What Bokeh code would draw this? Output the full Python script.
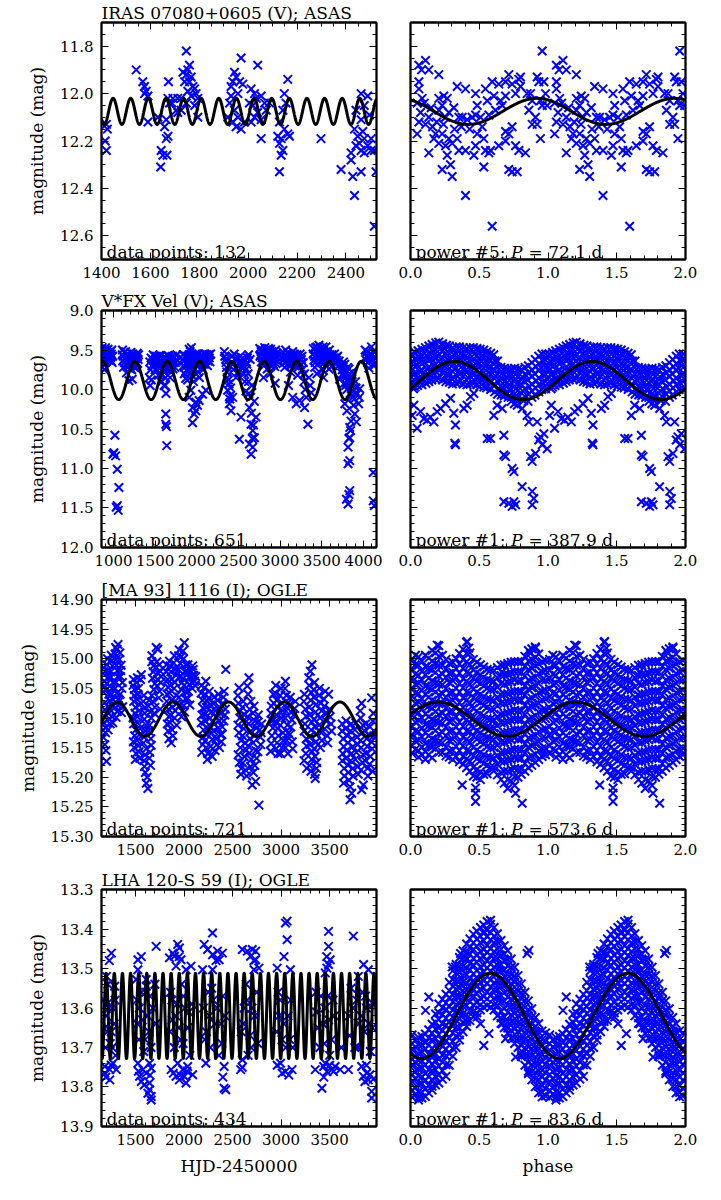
import numpy as np
from bokeh.plotting import figure
from bokeh.models import (Range1d, LinearAxis, SingleIntervalTicker, Title,
                          PrintfTickFormatter, CustomJSTickFormatter, Label)
from bokeh.layouts import column, row
from bokeh.embed import file_html
from bokeh.resources import INLINE

# ------------------------------------------------------------------ data
titles = ["IRAS 07080+0605 (V); ASAS", "V*FX Vel (V); ASAS",
          "[MA 93] 1116 (I); OGLE", "LHA 120-S 59 (I); OGLE"]
n_points = [132, 651, 721, 434]
power_rank = [5, 1, 1, 1]
periods = [72.1, 387.9, 573.6, 83.6]
fit_mean = [12.075, 9.886, 15.102, 13.62]
fit_amp = [0.055, 0.242, 0.029, 0.108]
fit_phase_max = [0.92, 0.32, 0.20, 0.58]
fit_t0 = [1381.0, 1133.0, 1197.0, 1150.0]

time_ranges = [(1400, 2525), (856, 4156), (1150, 3983), (1150, 3983)]
mag_ranges = [(11.7, 12.7), (9.0, 12.0), (14.90, 15.30), (13.3, 13.9)]
x_tick_step = [200, 500, 500, 500]
x_minor = [4, 5, 5, 5]
y_tick_step = [0.2, 0.5, 0.05, 0.1]
y_minor = [4, 5, 5, 5]
y_fmt = ["%.1f", "%.1f", "%.2f", "%.1f"]

# ---- star 1: time series (HJD-2450000, mag)
lc1 = [(1420,12.13),(1424,12.15),(1415,12.20),(1420,12.24),
 (1542,11.90),(1569,11.95),(1576,11.97),(1583,11.99),(1576,12.00),(1590,12.01),
 (1590,12.12),(1631,12.10),
 (1644,12.24),(1651,12.26),(1668,12.26),(1642,12.31),(1672,12.18),(1665,12.19),(1658,12.14),(1665,12.11),
 (1674,11.95),(1672,12.02),(1678,12.04),(1688,12.04),(1692,12.02),(1712,12.02),(1706,12.07),(1712,12.08),
 (1747,11.82),(1760,11.88),(1753,11.90),(1733,11.91),(1747,11.92),(1767,11.93),(1740,11.95),(1760,11.95),
 (1774,11.97),(1781,11.98),(1753,11.99),(1767,12.01),(1787,12.00),(1726,12.02),(1747,12.04),(1781,12.05),
 (1794,12.02),(1726,12.07),(1794,12.10),
 (1944,11.91),(1930,11.97),(1937,11.95),(1951,11.93),(1965,11.95),(1978,11.96),(1971,11.85),(1958,12.00),
 (1930,12.01),(1924,12.04),(1944,12.07),(1917,12.10),(1937,12.12),(1958,12.10),(1971,12.15),(1951,12.14),(1985,12.12),
 (2039,11.88),(2012,11.98),(2026,12.00),(2033,12.02),(2053,12.01),(2067,12.04),(2005,12.04),(2019,12.05),
 (2039,12.08),(2053,12.11),(2026,12.10),(2012,12.12),(2053,12.19),(2074,12.07),(2087,12.04),
 (2162,11.94),(2148,12.00),(2155,12.04),(2142,12.07),(2128,12.12),(2148,12.15),(2162,12.17),(2169,12.18),
 (2135,12.19),(2128,12.21),(2142,12.24),(2135,12.26),(2128,12.33),(2121,12.18),
 (2298,12.19),
 (2380,12.32),(2421,12.28),(2428,12.35),(2435,12.43),(2462,12.33),(2421,12.25),(2441,12.22),(2455,12.21),
 (2448,12.18),(2469,12.16),(2462,12.11),(2475,12.05),(2462,12.00),(2489,12.01),(2496,12.09),(2475,12.19),
 (2489,12.22),(2503,12.19),(2516,12.24),(2475,12.25),(2503,12.24),(2523,12.33),(2516,12.56),(2441,12.07),
 (2435,12.15),(2462,12.24)]

# ---- star 1: phased (phase in [0,1), mag)
ph1 = [(0.061,11.88),(0.109,11.86),(0.080,11.90),(0.133,11.90),(0.206,11.92),
 (0.061,11.95),(0.061,11.98),(0.085,12.02),(0.048,12.04),(0.073,12.08),(0.061,12.12),(0.048,12.17),
 (0.109,12.13),(0.133,12.10),(0.206,12.02),(0.242,12.01),(0.267,12.02),(0.230,12.05),(0.206,12.07),
 (0.279,12.08),(0.255,12.10),(0.315,12.06),(0.339,11.97),(0.400,11.98),(0.352,12.10),(0.376,12.10),
 (0.412,12.11),(0.448,12.10),(0.182,12.17),(0.170,12.19),(0.230,12.17),(0.279,12.19),(0.206,12.21),
 (0.255,12.22),(0.303,12.21),(0.339,12.19),(0.352,12.24),(0.400,12.24),(0.267,12.26),(0.291,12.30),
 (0.230,12.32),(0.303,12.35),(0.133,12.25),(0.400,12.43),
 (0.473,12.00),(0.485,12.05),(0.473,12.09),(0.509,12.10),(0.545,11.98),(0.558,12.03),(0.594,11.95),
 (0.606,12.01),(0.570,12.09),(0.618,12.07),(0.655,12.03),(0.667,12.05),(0.691,12.01),(0.642,11.96),
 (0.715,11.92),(0.691,11.95),(0.739,11.96),(0.764,12.00),(0.788,11.94),(0.800,11.97),(0.800,11.93),
 (0.485,12.17),(0.521,12.14),(0.533,12.19),(0.473,12.22),(0.545,12.24),(0.582,12.24),(0.533,12.31),
 (0.570,12.25),(0.461,12.26),(0.642,12.22),(0.691,12.20),(0.715,12.17),(0.739,12.14),(0.764,12.22),
 (0.788,12.24),(0.836,12.25),(0.715,12.32),(0.739,12.33),(0.776,12.33),(0.691,12.16),(0.594,12.56),
 (0.848,12.00),(0.873,12.00),(0.885,12.03),(0.921,11.93),(0.933,11.95),(0.945,12.03),(0.958,12.05),
 (0.909,12.10),(0.921,12.13),(0.945,12.19),(0.885,12.13),(0.861,12.07),(0.958,11.82),(0.970,11.95),
 (0.982,12.00),(0.994,12.05),(0.150,12.06),(0.190,12.12),(0.240,12.13),(0.320,12.15),(0.370,12.14),
 (0.430,12.15),(0.100,12.04),(0.160,12.14)]

# ---- star 2: time series
lc2 = [(864,9.47),(870,9.55),(880,9.62),(884,9.50),(895,9.58),(904,9.47),(910,9.65),(920,9.53),(924,9.60),
 (935,9.49),(944,9.57),(950,9.63),(960,9.52),(964,9.60),(975,9.55),(984,9.66),(870,9.72),(890,9.75),
 (1017,10.58),(993,10.82),(1025,10.84),(1045,11.01),(1065,11.24),(1033,11.49),(1057,11.53),(1045,11.47),(1005,10.80),
 (1105,9.56),(1110,9.64),(1120,9.72),(1128,9.53),(1140,9.60),(1150,9.68),(1155,9.79),(1165,9.55),(1175,9.62),
 (1185,9.71),(1190,9.58),(1200,9.66),(1210,9.53),(1218,9.75),(1225,9.61),(1235,9.69),(1245,9.57),(1255,9.64),
 (1265,9.73),(1280,9.60),(1290,9.67),(1300,9.56),(1185,9.89),(1225,9.87),
 (1430,9.85),(1440,9.95),(1450,9.60),(1460,9.70),(1475,9.56),(1490,9.64),(1500,9.75),(1515,9.58),(1525,9.67),
 (1540,9.82),(1550,9.57),(1560,9.63),(1570,9.72),(1580,9.90),(1590,9.60),(1600,9.68),(1610,9.78),(1620,9.95),
 (1630,10.05),(1640,9.62),(1650,9.57),(1660,9.70),(1670,9.66),(1680,9.85),(1690,9.59),(1700,9.63),(1715,9.74),
 (1730,9.60),(1745,9.66),(1760,9.56),(1627,10.31),(1627,10.44),(1635,10.47),(1639,10.71),(1607,9.95),
 (1830,9.62),(1840,9.70),(1850,9.80),(1860,9.58),(1870,9.66),(1880,9.75),(1890,9.88),(1900,9.60),(1910,9.69),
 (1920,9.52),(1930,9.78),(1940,9.63),(1950,9.71),(1960,9.90),(1970,9.58),(1980,9.66),(1990,9.80),(2000,9.55),
 (2010,9.70),(2020,9.62),(2030,9.85),(2045,9.57),(2060,9.66),(2075,9.75),(2090,9.60),(2105,9.68),(2120,9.56),
 (2135,9.64),(2150,9.60),(2165,9.55),(1908,9.49),(1935,9.47),(1948,10.23),(1968,10.31),(1948,10.42),
 (1988,10.27),(2028,10.14),(2069,10.06),(2109,10.01),(1908,10.10),(1988,10.16),(1928,10.01),(2008,10.20),
 (2330,9.52),(2345,9.62),(2355,9.72),(2365,9.85),(2370,10.01),(2385,9.93),(2390,10.18),(2400,10.08),
 (2410,10.27),(2430,10.10),(2420,9.66),(2440,9.75),(2455,9.62),(2470,9.85),(2485,9.70),(2500,9.60),
 (2510,9.78),(2530,10.35),(2510,10.63),(2545,9.66),(2560,9.72),(2575,9.90),(2590,10.02),(2600,9.68),
 (2615,9.80),(2625,10.05),(2631,10.23),(2651,10.44),(2671,10.52),(2631,10.69),(2651,10.82),(2691,10.61),
 (2711,10.35),(2671,10.73),(2690,10.15),(2660,9.95),(2640,9.62),(2620,9.56),
 (2755,9.48),(2765,9.56),(2775,9.65),(2785,9.50),(2795,9.60),(2805,9.70),(2815,9.47),(2825,9.55),(2835,9.63),
 (2845,9.74),(2855,9.52),(2865,9.59),(2875,9.68),(2885,9.49),(2895,9.57),(2905,9.66),(2915,9.53),(2925,9.62),
 (2935,9.71),(2945,9.50),(2955,9.58),(2965,9.64),(2800,9.85),(2880,9.80),(2940,9.92),
 (3035,9.53),(3045,9.62),(3055,9.72),(3065,9.50),(3080,9.60),(3095,9.68),(3110,9.55),(3125,9.78),(3140,9.63),
 (3150,9.52),(3165,9.58),(3180,9.70),(3195,9.60),(3210,9.82),(3225,9.66),(3240,9.55),(3255,9.62),(3270,9.74),
 (3285,9.90),(3300,10.00),(3193,10.18),(3233,10.14),(3293,10.23),(3313,10.10),(3333,10.44),(3373,10.04),
 (3345,9.85),(3360,9.95),(3150,10.10),(3100,9.95),
 (3395,9.55),(3405,9.63),(3415,9.72),(3425,9.47),(3435,9.52),(3445,9.60),(3455,9.68),(3465,9.44),(3475,9.50),
 (3485,9.58),(3495,9.66),(3505,9.75),(3515,9.46),(3525,9.55),(3535,9.62),(3545,9.70),(3555,9.52),(3565,9.59),
 (3575,9.65),(3585,9.74),(3600,9.56),(3615,9.62),(3630,9.70),(3645,9.60),(3660,9.67),(3680,9.63),(3700,9.70),
 (3715,9.87),(3520,9.85),(3440,9.80),(3674,9.59),
 (3740,9.70),(3750,9.80),(3760,9.65),(3770,9.92),(3780,9.75),(3790,9.85),(3800,10.00),(3810,9.72),(3820,9.90),
 (3830,9.80),(3840,10.05),(3850,9.95),(3860,9.78),(3870,10.10),(3880,10.20),(3895,10.31),(3915,10.41),
 (3905,9.90),(3955,9.99),(3940,10.18),(3775,10.18),(3835,10.48),(3835,10.61),(3815,10.73),(3815,10.94),
 (3835,10.90),(3835,11.28),(3815,11.45),(3795,11.39),(3825,11.33),(3845,10.52),(3825,10.62),(3850,10.40),
 (3800,10.27),
 (4020,9.50),(4035,9.58),(4050,9.66),(4065,9.73),(4080,9.55),(4096,9.46),(4110,9.62),(4125,9.70),(4140,9.52),
 (4150,9.60),(4116,11.05),(4116,11.41),(4130,11.47)]
lc2_more = [(866,9.60),(878,9.52),(889,9.66),(900,9.56),(915,9.50),(930,9.62),(940,9.53),(955,9.58),(970,9.64),
 (980,9.50),(990,9.58),
 (1108,9.50),(1118,9.58),(1132,9.66),(1145,9.52),(1160,9.62),(1170,9.70),(1180,9.56),(1195,9.64),(1205,9.74),
 (1215,9.60),(1230,9.55),(1240,9.65),(1250,9.72),(1262,9.58),(1275,9.66),(1285,9.54),(1295,9.62),
 (1435,9.65),(1445,9.75),(1455,9.88),(1468,9.62),(1482,9.70),(1495,9.58),(1508,9.68),(1520,9.76),(1532,9.60),
 (1545,9.70),(1555,9.66),(1565,9.58),(1575,9.82),(1585,9.66),(1595,9.74),(1605,9.60),(1615,9.70),(1625,9.85),
 (1645,9.75),(1655,9.64),(1665,9.58),(1675,9.76),(1685,9.66),(1695,9.70),(1708,9.58),(1722,9.66),(1738,9.72),
 (1752,9.62),
 (1835,9.56),(1845,9.64),(1855,9.72),(1865,9.86),(1875,9.58),(1885,9.68),(1895,9.78),(1905,9.56),(1915,9.62),
 (1925,9.72),(1935,9.58),(1945,9.82),(1955,9.60),(1965,9.74),(1975,9.65),(1985,9.55),(1995,9.70),(2005,9.62),
 (2015,9.78),(2025,9.55),(2038,9.68),(2052,9.62),(2068,9.58),(2082,9.68),(2098,9.55),(2112,9.62),(2128,9.70),
 (2142,9.56),(2158,9.65),
 (2335,9.58),(2350,9.66),(2362,9.78),(2378,9.88),(2395,10.12),(2405,9.98),(2425,9.58),(2435,9.68),(2448,9.55),
 (2462,9.72),(2478,9.62),(2492,9.78),(2505,9.66),(2520,9.58),(2535,9.72),(2550,9.60),(2565,9.80),(2580,9.64),
 (2595,9.74),(2608,9.60),(2620,9.90),(2645,10.10),(2655,10.30),(2665,10.62),(2680,10.45),
 (2758,9.58),(2770,9.52),(2780,9.60),(2790,9.66),(2800,9.54),(2810,9.62),(2820,9.58),(2830,9.50),(2840,9.57),
 (2850,9.66),(2860,9.48),(2870,9.55),(2880,9.62),(2890,9.70),(2900,9.52),(2910,9.60),(2920,9.68),(2930,9.56),
 (2950,9.67),(2960,9.54),(2970,9.60),
 (3040,9.58),(3050,9.66),(3060,9.56),(3072,9.65),(3088,9.54),(3102,9.62),(3118,9.70),(3132,9.57),(3145,9.68),
 (3158,9.64),(3172,9.55),(3188,9.66),(3202,9.56),(3218,9.72),(3232,9.60),(3248,9.68),(3262,9.58),(3278,9.66),
 (3292,9.80),
 (3398,9.48),(3410,9.58),(3420,9.66),(3430,9.58),(3440,9.46),(3450,9.55),(3460,9.62),(3470,9.58),(3480,9.64),
 (3490,9.48),(3500,9.55),(3510,9.62),(3520,9.50),(3530,9.66),(3540,9.58),(3550,9.46),(3560,9.64),(3570,9.55),
 (3580,9.60),(3590,9.50),(3608,9.66),(3622,9.56),(3638,9.64),(3652,9.55),(3668,9.60),(3690,9.58),(3708,9.64),
 (3745,9.75),(3755,9.72),(3765,9.84),(3775,9.68),(3785,9.95),(3795,9.78),(3805,9.88),(3815,9.82),(3825,9.74),
 (3835,9.92),(3845,9.84),(3855,10.08),(3865,9.90),(3875,10.02),(3890,10.12),(3910,9.98),(3925,10.05),(3950,10.10),
 (4025,9.62),(4040,9.52),(4055,9.58),(4070,9.64),(4085,9.62),(4100,9.56),(4118,9.52),(4132,9.60),(4145,9.66)]

# ---- star 2: phased
ph2 = [(0.008,9.55),(0.015,9.64),(0.004,9.72),(0.018,9.81),(0.010,9.90),(0.022,9.99),
 (0.055,9.51),(0.062,9.60),(0.048,9.69),(0.066,9.77),(0.058,9.86),(0.051,9.95),
 (0.108,9.47),(0.115,9.57),(0.101,9.65),(0.119,9.74),(0.106,9.83),(0.112,9.92),
 (0.157,9.43),(0.163,9.52),(0.152,9.61),(0.168,9.70),(0.160,9.79),(0.155,9.88),
 (0.205,9.40),(0.214,9.49),(0.201,9.58),(0.217,9.67),(0.209,9.76),(0.203,9.86),
 (0.262,9.44),(0.255,9.54),(0.268,9.62),(0.251,9.71),(0.264,9.80),(0.258,9.90),
 (0.307,9.47),(0.315,9.56),(0.302,9.65),(0.318,9.74),(0.311,9.84),(0.305,9.93),
 (0.356,9.46),(0.364,9.55),(0.351,9.63),(0.367,9.72),(0.359,9.81),(0.353,9.91),
 (0.408,9.48),(0.402,9.57),(0.415,9.66),(0.405,9.75),(0.418,9.85),(0.411,9.94),
 (0.457,9.47),(0.464,9.55),(0.452,9.64),(0.466,9.73),(0.459,9.82),(0.455,9.92),
 (0.506,9.49),(0.513,9.58),(0.502,9.67),(0.517,9.76),(0.509,9.86),(0.504,9.96),
 (0.557,9.52),(0.563,9.61),(0.552,9.70),(0.566,9.79),(0.559,9.89),(0.554,9.98),
 (0.606,9.56),(0.614,9.64),(0.603,9.74),(0.617,9.83),(0.609,9.93),(0.612,10.03),
 (0.657,9.72),(0.664,9.80),(0.652,9.89),(0.667,9.98),(0.660,10.07),
 (0.708,9.74),(0.714,9.82),(0.703,9.91),(0.716,10.00),(0.710,10.10),
 (0.757,9.73),(0.763,9.81),(0.752,9.90),(0.766,9.99),(0.759,10.09),(0.755,10.18),
 (0.806,9.75),(0.814,9.84),(0.802,9.93),(0.817,10.02),(0.809,10.12),
 (0.857,9.70),(0.863,9.79),(0.852,9.88),(0.866,9.97),(0.859,10.06),(0.855,10.15),
 (0.907,9.62),(0.913,9.71),(0.902,9.80),(0.916,9.89),(0.909,9.98),(0.904,10.07),
 (0.956,9.55),(0.964,9.64),(0.951,9.73),(0.967,9.82),(0.959,9.91),(0.954,10.00),
 (0.048,10.49),(0.073,10.28),(0.097,10.37),(0.121,10.39),(0.145,10.35),(0.170,10.41),(0.194,10.28),
 (0.218,10.24),(0.255,10.18),(0.291,10.11),(0.315,10.30),(0.327,10.45),(0.327,10.70),(0.322,10.68),
 (0.388,10.24),(0.412,10.20),(0.436,10.09),(0.461,10.05),(0.558,10.62),(0.582,10.62),(0.606,10.33),
 (0.630,10.20),(0.667,10.24),(0.679,10.58),(0.679,10.83),(0.691,10.85),(0.739,11.00),(0.752,11.04),
 (0.812,11.23),(0.679,11.42),(0.715,11.44),(0.739,11.48),(0.752,11.42),(0.764,11.46),(0.885,11.29),
 (0.885,11.46),(0.897,11.38),(0.873,10.85),(0.885,10.91),(0.909,10.81),(0.933,10.64),(0.945,10.60),
 (0.970,10.56),(0.994,10.75),(0.958,10.70),(0.921,10.41),(0.861,10.41),(0.848,10.33),(0.812,10.24),
 (0.776,10.20),(0.824,10.14),(0.012,10.33),(0.024,10.20)]
ph2_cols_b = [
 (0.033, [9.53,9.62,9.71,9.80,9.89,9.97]), (0.083, [9.49,9.58,9.67,9.76,9.85,9.94]),
 (0.133, [9.45,9.54,9.63,9.72,9.81,9.90]), (0.183, [9.41,9.50,9.59,9.68,9.77,9.87]),
 (0.233, [9.42,9.51,9.60,9.69,9.78,9.88]), (0.283, [9.45,9.55,9.64,9.73,9.82,9.91]),
 (0.333, [9.46,9.55,9.64,9.73,9.82,9.92]), (0.383, [9.47,9.56,9.65,9.74,9.83,9.93]),
 (0.433, [9.47,9.56,9.65,9.74,9.83,9.93]), (0.483, [9.48,9.57,9.66,9.75,9.84,9.94]),
 (0.533, [9.50,9.59,9.68,9.78,9.87,9.97]), (0.583, [9.54,9.63,9.72,9.81,9.91,10.00]),
 (0.633, [9.64,9.72,9.81,9.90,10.00,10.06]), (0.683, [9.73,9.81,9.90,9.99,10.08]),
 (0.733, [9.74,9.82,9.91,10.00,10.10,10.15]), (0.783, [9.74,9.83,9.92,10.01,10.10]),
 (0.833, [9.72,9.81,9.90,9.99,10.09]), (0.883, [9.66,9.75,9.84,9.93,10.02,10.10]),
 (0.933, [9.58,9.67,9.76,9.85,9.94,10.03]), (0.983, [9.55,9.63,9.72,9.81,9.90,9.99])]

# ---- star 3: time series
lc3 = [(1172,15.015),(1180,15.038),(1168,15.056),(1185,15.074),(1176,15.097),(1190,15.116),(1170,15.133),
 (1184,15.145),(1201,15.173),(1212,15.000),(1220,15.021),(1208,15.042),(1225,15.060),(1215,15.081),
 (1230,15.101),(1218,15.120),(1250,14.994),(1262,15.012),(1248,15.031),(1258,15.050),(1270,15.069),
 (1252,15.088),(1266,15.108),(1295,14.981),(1310,14.984),(1320,14.976),(1302,15.001),(1315,15.020),
 (1298,15.040),(1308,15.058),(1322,15.079),(1300,15.099),(1340,14.990),(1352,15.011),(1345,15.030),
 (1360,15.050),(1338,15.071),(1355,15.091),
 (1478,15.035),(1490,15.052),(1482,15.072),(1495,15.092),(1480,15.110),(1492,15.130),(1485,15.150),
 (1498,15.170),(1520,15.032),(1530,15.050),(1515,15.068),(1535,15.088),(1522,15.108),(1540,15.128),
 (1528,15.147),(1545,15.168),(1560,15.027),(1585,15.062),(1598,15.082),(1590,15.102),(1605,15.122),
 (1582,15.142),(1600,15.162),(1592,15.182),(1611,15.210),(1628,15.219),(1620,15.200),(1640,15.070),
 (1652,15.090),(1645,15.112),(1658,15.135),(1648,15.158),(1655,15.180),(1670,14.995),(1685,15.012),
 (1675,15.033),(1690,15.052),(1678,15.072),(1695,15.092),(1713,14.981),(1730,14.984),(1720,15.005),
 (1735,15.025),(1725,15.046),(1740,15.066),(1750,15.020),(1760,15.040),(1755,15.085),
 (1820,15.010),(1832,15.035),(1825,15.060),(1840,15.085),(1828,15.110),(1845,15.135),(1850,15.004),
 (1865,15.022),(1858,15.045),(1872,15.070),(1862,15.095),(1878,15.120),(1868,15.142),(1900,14.995),
 (1912,15.018),(1905,15.040),(1920,15.062),(1910,15.088),(1925,15.112),(1950,14.985),(1962,15.008),
 (1955,15.030),(1970,15.052),(1960,15.078),(1975,15.098),(2003,14.973),(1995,15.000),(2010,15.022),
 (2000,15.045),(2015,15.068),(2005,15.090),(2040,15.010),(2052,15.032),(2045,15.055),(2060,15.078),
 (2072,15.030),(2089,15.012),(2085,15.050),(2100,15.028),(2115,15.045),
 (2180,15.045),(2190,15.070),(2185,15.095),(2200,15.120),(2192,15.145),(2225,15.038),(2215,15.060),
 (2230,15.082),(2220,15.105),(2235,15.128),(2228,15.150),(2240,15.170),(2260,15.055),(2275,15.078),
 (2268,15.100),(2282,15.125),(2272,15.148),(2290,15.165),(2310,15.065),(2322,15.088),(2315,15.110),
 (2330,15.135),(2320,15.155),(2355,15.060),(2368,15.082),(2360,15.105),(2375,15.128),(2365,15.150),
 (2413,15.055),(2430,15.018),(2400,15.075),(2420,15.095),(2395,15.115),
 (2567,15.049),(2560,15.075),(2575,15.100),(2565,15.125),(2580,15.150),(2570,15.175),(2585,15.195),
 (2610,15.072),(2622,15.095),(2615,15.118),(2630,15.142),(2620,15.165),(2635,15.188),(2669,15.032),
 (2660,15.060),(2675,15.085),(2665,15.110),(2680,15.135),(2670,15.160),(2685,15.182),(2703,15.213),
 (2720,15.080),(2732,15.105),(2725,15.130),(2740,15.155),(2738,15.207),(2730,15.180),(2772,15.247),
 (2765,15.095),(2780,15.120),(2790,15.145),(2800,15.110),
 (2891,15.156),(2900,15.080),(2910,15.105),(2905,15.130),(2920,15.060),(2945,15.045),(2955,15.070),
 (2950,15.095),(2965,15.118),(2958,15.142),(2970,15.160),(3000,15.050),(3012,15.075),(3005,15.100),
 (3020,15.125),(3010,15.150),(3045,15.038),(3055,15.062),(3050,15.088),(3065,15.112),(3058,15.138),
 (3070,15.160),(3095,15.065),(3105,15.090),(3100,15.115),(3115,15.140),(3147,15.072),(3130,15.095),
 (3240,15.060),(3250,15.085),(3245,15.110),(3260,15.135),(3255,15.160),(3265,15.185),(3301,15.021),
 (3318,15.010),(3290,15.045),(3305,15.070),(3295,15.095),(3310,15.120),(3300,15.145),(3315,15.170),
 (3308,15.190),(3345,15.040),(3352,15.202),(3340,15.065),(3355,15.090),(3348,15.115),(3360,15.140),
 (3350,15.165),(3365,15.185),(3395,15.050),(3408,15.075),(3400,15.100),(3415,15.125),(3405,15.150),
 (3455,15.055),(3489,15.060),(3445,15.080),(3465,15.105),(3475,15.130),(3500,15.085),(3515,15.110),
 (3630,15.110),(3640,15.135),(3635,15.160),(3650,15.185),(3643,15.210),(3670,15.105),(3682,15.130),
 (3675,15.155),(3690,15.180),(3711,15.216),(3728,15.227),(3711,15.238),(3720,15.110),(3732,15.135),
 (3725,15.160),(3740,15.185),(3770,15.108),(3782,15.132),(3775,15.158),(3790,15.182),(3830,15.075),
 (3820,15.100),(3835,15.125),(3825,15.150),(3840,15.175),(3847,15.213),(3830,15.221),(3870,15.110),
 (3882,15.135),(3875,15.160),(3890,15.185),(3933,15.066),(3950,15.092),(3915,15.115),(3930,15.140),
 (3920,15.165),(3940,15.190)]
lc3_more = [(1165,15.025),(1178,15.048),(1188,15.086),(1174,15.108),(1192,15.125),(1196,15.155),(1205,15.010),
 (1228,15.030),(1210,15.050),(1235,15.071),(1222,15.092),(1240,15.110),(1256,15.003),(1245,15.022),
 (1268,15.040),(1255,15.060),(1275,15.079),(1260,15.098),(1290,14.992),(1305,15.011),(1318,15.030),
 (1290,15.050),(1325,15.068),(1312,15.089),(1335,15.001),(1348,15.020),(1365,15.040),(1342,15.060),
 (1368,15.081),
 (1475,15.045),(1488,15.062),(1500,15.082),(1476,15.100),(1502,15.120),(1478,15.140),(1505,15.160),
 (1512,15.040),(1525,15.060),(1540,15.078),(1518,15.098),(1546,15.118),(1515,15.138),(1535,15.157),
 (1552,15.035),(1580,15.072),(1595,15.092),(1610,15.112),(1588,15.132),(1612,15.152),(1586,15.172),
 (1602,15.192),(1635,15.080),(1662,15.100),(1638,15.122),(1662,15.146),(1642,15.168),(1668,15.005),
 (1682,15.022),(1700,15.042),(1668,15.062),(1700,15.082),(1705,15.015),(1745,15.010),(1728,15.035),
 (1748,15.055),(1765,15.030),
 (1818,15.022),(1836,15.048),(1822,15.072),(1846,15.098),(1835,15.122),(1855,15.012),(1875,15.034),
 (1852,15.058),(1880,15.082),(1856,15.108),(1885,15.130),(1895,15.007),(1918,15.028),(1898,15.050),
 (1928,15.075),(1902,15.100),(1945,14.995),(1968,14.997),(1944,15.018),(1978,15.040),(1948,15.065),
 (1982,15.088),(1990,14.987),(2018,15.010),(1992,15.033),(2022,15.056),(1998,15.079),(2035,15.021),
 (2058,15.044),(2038,15.067),(2065,15.020),(2078,15.040),(2095,15.018),(2108,15.038),(2120,15.030),
 (2176,15.058),(2195,15.083),(2178,15.108),(2198,15.132),(2182,15.158),(2210,15.049),(2238,15.071),
 (2212,15.094),(2242,15.117),(2214,15.139),(2245,15.160),(2255,15.066),(2285,15.089),(2258,15.112),
 (2292,15.136),(2262,15.158),(2305,15.076),(2335,15.099),(2305,15.122),(2338,15.145),(2345,15.070),
 (2380,15.093),(2350,15.117),(2385,15.140),(2405,15.065),(2425,15.085),(2410,15.105),(2390,15.128),
 (2555,15.062),(2582,15.088),(2556,15.112),(2588,15.138),(2558,15.162),(2590,15.185),(2600,15.082),
 (2640,15.106),(2602,15.130),(2642,15.154),(2605,15.176),(2645,15.198),(2652,15.046),(2688,15.072),
 (2655,15.098),(2690,15.122),(2658,15.147),(2692,15.170),(2710,15.092),(2745,15.117),(2712,15.142),
 (2748,15.168),(2715,15.192),(2755,15.108),(2785,15.132),(2760,15.157),(2795,15.125),
 (2895,15.092),(2915,15.117),(2898,15.143),(2925,15.075),(2940,15.058),(2962,15.082),(2942,15.106),
 (2972,15.130),(2948,15.152),(2990,15.062),(3018,15.088),(2992,15.112),(3025,15.138),(2995,15.160),
 (3040,15.050),(3068,15.075),(3042,15.100),(3075,15.125),(3045,15.150),(3085,15.078),(3112,15.103),
 (3088,15.128),(3120,15.152),(3140,15.084),
 (3235,15.072),(3258,15.097),(3238,15.122),(3262,15.147),(3236,15.172),(3285,15.032),(3312,15.057),
 (3288,15.082),(3318,15.107),(3290,15.132),(3320,15.157),(3292,15.180),(3338,15.052),(3362,15.077),
 (3338,15.102),(3366,15.127),(3340,15.152),(3368,15.175),(3345,15.195),(3390,15.062),(3418,15.088),
 (3392,15.112),(3420,15.138),(3440,15.068),(3470,15.092),(3448,15.118),(3480,15.142),(3505,15.098),
 (3520,15.122),
 (3628,15.122),(3645,15.148),(3630,15.172),(3652,15.198),(3665,15.118),(3688,15.142),(3668,15.168),
 (3692,15.192),(3700,15.205),(3715,15.122),(3738,15.148),(3718,15.172),(3742,15.198),(3760,15.120),
 (3788,15.145),(3765,15.170),(3795,15.195),(3815,15.088),(3842,15.112),(3818,15.138),(3845,15.162),
 (3822,15.188),(3860,15.122),(3888,15.148),(3865,15.172),(3895,15.198),(3910,15.128),(3938,15.152),
 (3912,15.178),(3945,15.105),(3955,15.130)]

# ---- star 3: phased, listed as (phase, magnitudes read down that phase column)
ph3_cols = [
 (0.012, [15.001,15.019,15.033,15.051,15.064,15.083,15.096,15.115,15.129,15.147,15.160]),
 (0.058, [14.997,15.011,15.028,15.041,15.059,15.073,15.091,15.104,15.123,15.137,15.155,15.166]),
 (0.108, [14.994,15.013,15.027,15.046,15.060,15.079,15.093,15.111,15.125,15.143,15.157,15.170]),
 (0.157, [14.986,15.004,15.019,15.037,15.052,15.070,15.084,15.102,15.116,15.135,15.149,15.167]),
 (0.206, [14.978,14.996,15.011,15.029,15.043,15.061,15.076,15.094,15.108,15.127,15.141,15.158]),
 (0.258, [15.001,15.017,15.031,15.050,15.065,15.083,15.097,15.115,15.130,15.149,15.164]),
 (0.307, [15.006,15.023,15.037,15.056,15.070,15.089,15.103,15.121,15.136,15.154,15.170]),
 (0.356, [14.991,15.009,15.024,15.042,15.056,15.074,15.089,15.107,15.122,15.141,15.155,15.174]),
 (0.408, [14.972,14.991,15.005,15.023,15.038,15.056,15.070,15.089,15.103,15.122,15.136,15.155,15.169,15.184]),
 (0.457, [15.001,15.019,15.033,15.051,15.066,15.084,15.099,15.117,15.131,15.150,15.164,15.183,15.198]),
 (0.508, [15.010,15.027,15.042,15.060,15.074,15.093,15.107,15.125,15.140,15.158,15.172,15.191,15.204]),
 (0.557, [15.018,15.035,15.050,15.068,15.082,15.101,15.115,15.133,15.148,15.166,15.180,15.194]),
 (0.606, [15.020,15.038,15.052,15.070,15.085,15.103,15.117,15.136,15.150,15.168,15.183,15.189]),
 (0.658, [15.011,15.028,15.042,15.061,15.075,15.094,15.108,15.126,15.141,15.159,15.173,15.192,15.204]),
 (0.707, [15.008,15.026,15.040,15.059,15.073,15.091,15.106,15.124,15.138,15.157,15.171,15.190,15.204,15.219]),
 (0.757, [15.005,15.022,15.036,15.055,15.069,15.087,15.102,15.120,15.134,15.153,15.167,15.185,15.199,15.214]),
 (0.806, [15.005,15.023,15.037,15.056,15.070,15.088,15.103,15.121,15.135,15.154,15.168,15.186,15.195]),
 (0.857, [14.986,15.004,15.018,15.036,15.051,15.069,15.083,15.102,15.116,15.134,15.149,15.167,15.184]),
 (0.908, [14.980,14.998,15.012,15.031,15.045,15.063,15.078,15.096,15.110,15.129,15.143,15.161,15.175]),
 (0.957, [15.005,15.022,15.036,15.055,15.069,15.087,15.102,15.120,15.134,15.152,15.165])]
ph3_cols_b = [
 (0.035, [15.010,15.026,15.043,15.058,15.075,15.090,15.107,15.122,15.139,15.153]),
 (0.083, [15.004,15.021,15.036,15.053,15.068,15.085,15.100,15.117,15.132,15.149,15.162]),
 (0.132, [14.999,15.016,15.033,15.048,15.065,15.080,15.098,15.113,15.130,15.146,15.162]),
 (0.182, [14.990,15.008,15.023,15.041,15.056,15.073,15.089,15.106,15.121,15.138,15.152]),
 (0.232, [14.994,15.011,15.026,15.044,15.059,15.076,15.092,15.109,15.124,15.142,15.158]),
 (0.282, [15.008,15.025,15.040,15.058,15.073,15.090,15.106,15.123,15.138,15.156,15.166]),
 (0.332, [15.000,15.017,15.032,15.050,15.065,15.082,15.098,15.115,15.130,15.148,15.165]),
 (0.382, [14.984,15.001,15.016,15.034,15.049,15.066,15.082,15.099,15.114,15.132,15.147,15.165,15.178]),
 (0.432, [14.990,15.010,15.025,15.043,15.058,15.075,15.091,15.108,15.123,15.141,15.156,15.173,15.190]),
 (0.482, [15.006,15.023,15.038,15.056,15.071,15.088,15.104,15.121,15.136,15.154,15.169,15.187,15.200]),
 (0.532, [15.014,15.031,15.046,15.064,15.079,15.096,15.112,15.129,15.144,15.162,15.177,15.195]),
 (0.582, [15.019,15.037,15.052,15.069,15.085,15.102,15.117,15.135,15.150,15.167,15.183]),
 (0.632, [15.015,15.032,15.048,15.065,15.080,15.098,15.113,15.130,15.146,15.163,15.178,15.196]),
 (0.682, [15.010,15.027,15.043,15.060,15.075,15.093,15.108,15.125,15.141,15.158,15.173,15.190,15.210]),
 (0.732, [15.006,15.024,15.039,15.056,15.072,15.089,15.104,15.122,15.137,15.154,15.170,15.187,15.206]),
 (0.782, [15.005,15.022,15.038,15.055,15.070,15.088,15.103,15.120,15.136,15.153,15.168,15.186,15.200]),
 (0.832, [14.996,15.013,15.029,15.046,15.061,15.079,15.094,15.111,15.127,15.144,15.159,15.177,15.190]),
 (0.882, [14.983,15.001,15.016,15.033,15.049,15.066,15.081,15.099,15.114,15.131,15.147,15.164,15.180]),
 (0.932, [14.992,15.009,15.025,15.042,15.057,15.075,15.090,15.107,15.123,15.140,15.155,15.170]),
 (0.982, [15.003,15.020,15.036,15.053,15.068,15.086,15.101,15.118,15.134,15.151,15.162])]
ph3_extra = [(0.376,15.213),(0.473,15.218),(0.473,15.227),(0.473,15.241),(0.812,15.244),(0.764,15.227),
 (0.194,14.977),(0.412,14.971),(0.424,14.982),(0.909,14.982),(0.873,14.991),(0.036,14.994),(0.667,15.022)]

# ---- star 4: time series
lc4 = [(1252,13.461),(1201,13.520),(1184,13.748),(1235,13.756),(1303,13.756),(1235,13.782),(1184,13.765),
 (1201,13.647),(1269,13.740),(1218,13.587),(1286,13.545),(1200,13.620),(1250,13.660),(1290,13.580),
 (1525,13.478),(1525,13.503),(1508,13.528),(1662,13.752),(1611,13.765),(1542,13.773),(1560,13.786),
 (1645,13.790),(1645,13.807),(1662,13.824),(1662,13.833),(1628,13.816),(1713,13.444),(1611,13.528),
 (1611,13.545),(1645,13.740),(1577,13.756),(1525,13.740),(1540,13.600),(1600,13.680),(1650,13.570),
 (1850,13.473),(1901,13.469),(1935,13.439),(1952,13.448),(1918,13.494),(1969,13.478),(2021,13.503),
 (1867,13.756),(1918,13.773),(1952,13.782),(1986,13.756),(2003,13.773),(2038,13.748),(2089,13.769),
 (1935,13.740),(2021,13.790),(2072,13.494),(1884,13.461),(1880,13.630),(1930,13.590),(1990,13.690),
 (2050,13.610),
 (2208,13.439),(2294,13.410),(2243,13.452),(2294,13.465),(2345,13.456),(2396,13.461),(2294,13.503),
 (2362,13.478),(2413,13.748),(2413,13.803),(2430,13.807),(2225,13.740),(2191,13.503),(2230,13.660),
 (2300,13.580),(2380,13.640),
 (2601,13.452),(2652,13.456),(2703,13.452),(2738,13.456),(2686,13.469),(2738,13.478),(2772,13.499),
 (2721,13.503),(2584,13.756),(2601,13.731),(2620,13.600),(2680,13.670),(2750,13.560),
 (2960,13.499),(3062,13.380),(3062,13.427),(3045,13.385),(2994,13.740),(3045,13.761),(3113,13.756),
 (3011,13.765),(3096,13.503),(2980,13.620),(3050,13.700),(3100,13.580),
 (3489,13.406),(3489,13.444),(3506,13.478),(3489,13.490),(3472,13.499),(3455,13.511),(3438,13.748),
 (3472,13.761),(3540,13.761),(3421,13.803),(3455,13.740),(3352,13.756),(3557,13.748),(3523,13.756),
 (3380,13.650),(3450,13.600),(3520,13.680),
 (3745,13.418),(3796,13.520),(3899,13.503),(3830,13.748),(3847,13.773),(3864,13.786),(3899,13.782),
 (3933,13.811),(3933,13.828),(3694,13.756),(3609,13.756),(3882,13.765),(3916,13.769),(3700,13.620),
 (3780,13.580),(3860,13.660),(3920,13.710)]
lc4_more = [(1190,13.700),(1215,13.540),(1240,13.690),(1265,13.600),(1295,13.720),(1520,13.640),(1560,13.560),
 (1585,13.710),(1625,13.620),(1660,13.700),(1700,13.540),(1860,13.560),(1900,13.700),(1945,13.650),
 (1975,13.540),(2010,13.600),(2060,13.720),(2200,13.600),(2250,13.560),(2270,13.700),(2320,13.640),
 (2360,13.720),(2400,13.570),(2590,13.660),(2640,13.540),(2660,13.720),(2700,13.600),(2760,13.690),
 (2970,13.560),(3010,13.680),(3070,13.620),(3120,13.700),(3360,13.560),(3400,13.700),(3430,13.640),
 (3480,13.570),(3500,13.720),(3550,13.620),(3620,13.700),(3720,13.550),(3760,13.700),(3800,13.640),
 (3840,13.560),(3880,13.600),(3940,13.650),
 (1195,13.775),(1250,13.745),(1530,13.760),(1590,13.795),(1650,13.770),(1890,13.765),(1960,13.770),
 (2030,13.760),(2400,13.775),(2600,13.750),(2960,13.745),(3080,13.770),(3440,13.775),(3500,13.745),
 (3880,13.745),(3950,13.780),
 (1230,13.480),(1560,13.470),(1950,13.470),(2330,13.480),(2720,13.480),(3030,13.470),(3470,13.470),
 (3850,13.490),
 (1175,13.580),(1210,13.660),(1225,13.600),(1260,13.700),(1280,13.640),(1515,13.580),(1535,13.680),
 (1570,13.630),(1605,13.560),(1640,13.660),(1680,13.600),(1710,13.640),(1855,13.660),(1875,13.580),
 (1915,13.620),(1965,13.680),(1995,13.570),(2040,13.650),(2080,13.590),(2215,13.680),(2260,13.620),
 (2285,13.550),(2340,13.600),(2390,13.690),(2420,13.620),(2610,13.640),(2650,13.580),(2690,13.700),
 (2730,13.620),(2955,13.660),(2990,13.580),(3030,13.640),(3090,13.680),(3365,13.610),(3410,13.570),
 (3445,13.690),(3490,13.630),(3535,13.580),(3705,13.670),(3740,13.600),(3790,13.700),(3825,13.620),
 (3870,13.570),(3905,13.640),(3950,13.590)]

# ---- star 4: phased columns + scattered points
ph4_cols = [
 (0.012, [13.668,13.690,13.706,13.729,13.745,13.768,13.786,13.808,13.826]),
 (0.058, [13.675,13.694,13.716,13.733,13.755,13.772,13.794,13.812,13.833]),
 (0.108, [13.666,13.688,13.704,13.727,13.744,13.766,13.783,13.805,13.824]),
 (0.157, [13.641,13.663,13.680,13.702,13.719,13.741,13.758,13.781,13.798,13.808]),
 (0.206, [13.590,13.612,13.629,13.651,13.668,13.690,13.707,13.730,13.747,13.769,13.790]),
 (0.258, [13.565,13.587,13.603,13.626,13.643,13.665,13.682,13.704,13.721,13.744,13.773]),
 (0.307, [13.506,13.528,13.545,13.567,13.584,13.606,13.623,13.646,13.663,13.685,13.702,13.722]),
 (0.356, [13.472,13.494,13.510,13.533,13.550,13.572,13.589,13.611,13.628,13.651,13.668,13.681]),
 (0.408, [13.438,13.460,13.476,13.499,13.516,13.538,13.555,13.577,13.594,13.617,13.634,13.647]),
 (0.457, [13.413,13.435,13.451,13.474,13.491,13.513,13.530,13.552,13.569,13.592,13.609,13.622]),
 (0.508, [13.396,13.418,13.434,13.457,13.474,13.496,13.513,13.535,13.552,13.575,13.592,13.605]),
 (0.557, [13.381,13.403,13.419,13.442,13.459,13.481,13.498,13.520,13.537,13.560,13.577,13.594]),
 (0.608, [13.396,13.418,13.435,13.457,13.474,13.496,13.513,13.536,13.553,13.575,13.592,13.605]),
 (0.658, [13.429,13.451,13.467,13.490,13.507,13.529,13.546,13.568,13.585,13.608,13.625,13.639]),
 (0.707, [13.455,13.477,13.493,13.516,13.533,13.555,13.572,13.594,13.611,13.634,13.651,13.664]),
 (0.757, [13.497,13.519,13.535,13.558,13.575,13.597,13.614,13.636,13.653,13.676,13.690]),
 (0.806, [13.539,13.561,13.577,13.600,13.617,13.639,13.656,13.678,13.695,13.717,13.723]),
 (0.857, [13.582,13.604,13.620,13.643,13.660,13.682,13.699,13.721,13.738,13.760,13.766]),
 (0.908, [13.624,13.646,13.662,13.685,13.702,13.724,13.741,13.763,13.780,13.799]),
 (0.957, [13.658,13.680,13.696,13.719,13.736,13.758,13.775,13.797,13.814,13.825])]
ph4_cols_b = [
 (0.035, [13.681,13.699,13.722,13.738,13.761,13.779,13.802,13.819]),
 (0.083, [13.672,13.693,13.711,13.734,13.751,13.774,13.791,13.813,13.828]),
 (0.132, [13.655,13.676,13.694,13.717,13.734,13.756,13.774,13.796,13.815]),
 (0.182, [13.615,13.636,13.654,13.677,13.694,13.716,13.734,13.756,13.774,13.795]),
 (0.232, [13.578,13.599,13.617,13.640,13.657,13.679,13.697,13.719,13.737,13.759,13.780]),
 (0.282, [13.535,13.556,13.574,13.597,13.614,13.636,13.654,13.676,13.694,13.716,13.745]),
 (0.332, [13.490,13.511,13.529,13.552,13.569,13.591,13.609,13.631,13.649,13.671,13.700]),
 (0.382, [13.455,13.476,13.494,13.517,13.534,13.556,13.574,13.596,13.614,13.636,13.660]),
 (0.432, [13.425,13.446,13.464,13.487,13.504,13.526,13.544,13.566,13.584,13.606,13.632]),
 (0.482, [13.405,13.426,13.444,13.467,13.484,13.506,13.524,13.546,13.564,13.586,13.612]),
 (0.532, [13.390,13.411,13.429,13.452,13.469,13.491,13.509,13.531,13.549,13.571,13.598]),
 (0.582, [13.388,13.409,13.427,13.450,13.467,13.489,13.507,13.529,13.547,13.569,13.598]),
 (0.632, [13.412,13.433,13.451,13.474,13.491,13.513,13.531,13.553,13.571,13.593,13.620]),
 (0.682, [13.442,13.463,13.481,13.504,13.521,13.543,13.561,13.583,13.601,13.623,13.650]),
 (0.732, [13.476,13.497,13.515,13.538,13.555,13.577,13.595,13.617,13.635,13.657,13.676]),
 (0.782, [13.518,13.539,13.557,13.580,13.597,13.619,13.637,13.659,13.677,13.700]),
 (0.832, [13.560,13.581,13.599,13.622,13.639,13.661,13.679,13.701,13.719,13.745]),
 (0.882, [13.602,13.623,13.641,13.664,13.681,13.703,13.721,13.743,13.761,13.782]),
 (0.932, [13.640,13.661,13.679,13.702,13.719,13.741,13.759,13.781,13.799,13.815]),
 (0.982, [13.663,13.684,13.702,13.725,13.742,13.764,13.782,13.804,13.823])]
ph4_extra = [(0.133,13.572),(0.109,13.606),(0.364,13.462),(0.327,13.496),(0.533,13.695),(0.691,13.678),
 (0.509,13.640),(0.848,13.462),(0.861,13.454),(0.582,13.378),(0.533,13.407),(0.412,13.475),
 (0.303,13.496),(0.206,13.648),(0.230,13.682),(0.485,13.623),(0.570,13.665),(0.667,13.640),
 (0.764,13.724),(0.061,13.826)]

# ------------------------------------------------------------------ helpers
FONT = "DejaVu Serif"
QFONT = '"DejaVu Serif"'
BLUE = "#0000ff"
FRAME_W, FRAME_H = 275, 237
TOPS = [20, 25, 26, 27]
BOTTOMS = [26, 26, 26, 70]
MSIZE, MLW = 12, 2.0


def expand_cols(*groups):
    pts = []
    for g in groups:
        for item in g:
            if isinstance(item[1], list):
                pts += [(item[0], m) for m in item[1]]
            else:
                pts.append(item)
    return pts


lightcurves = [lc1, lc2 + lc2_more, lc3 + lc3_more, lc4 + lc4_more]
phased = [ph1,
          expand_cols(ph2, ph2_cols_b),
          expand_cols(ph3_cols, ph3_cols_b, ph3_extra),
          expand_cols(ph4_cols, ph4_cols_b, ph4_extra)]


def style_axis(ax, labels=True):
    ax.major_tick_in = 7
    ax.major_tick_out = 0
    ax.minor_tick_in = 4
    ax.minor_tick_out = 0
    ax.major_tick_line_color = "black"
    ax.minor_tick_line_color = "black"
    ax.major_tick_line_width = 1
    ax.minor_tick_line_width = 1
    ax.axis_line_color = "black"
    ax.axis_line_width = 1.8
    ax.major_label_text_font = QFONT
    ax.major_label_text_font_size = "15px"
    ax.major_label_text_color = "black"
    ax.major_label_standoff = 7
    ax.axis_label_text_font = QFONT
    ax.axis_label_text_font_size = "17px"
    ax.axis_label_text_font_style = "normal"
    ax.axis_label_text_color = "black"
    if not labels:
        ax.formatter = CustomJSTickFormatter(code="return ''")
        ax.major_label_standoff = 0
        ax.major_label_text_font_size = "1px"


def setup_axes(p, xstep, xminor, xfmt, ystep, yminor, yfmt, show_y, xlabel=None, ylabel=None):
    p.xaxis.ticker = SingleIntervalTicker(interval=xstep, num_minor_ticks=xminor)
    p.yaxis.ticker = SingleIntervalTicker(interval=ystep, num_minor_ticks=yminor)
    p.xaxis.formatter = PrintfTickFormatter(format=xfmt)
    p.yaxis.formatter = PrintfTickFormatter(format=yfmt)
    for ax in p.xaxis:
        style_axis(ax)
    for ax in p.yaxis:
        style_axis(ax, labels=show_y)
        ax.major_label_standoff = 8 if show_y else 0
    if xlabel:
        p.xaxis.axis_label = xlabel
        p.xaxis.axis_label_standoff = 8
    if ylabel:
        p.yaxis.axis_label = ylabel
        p.yaxis.axis_label_standoff = 10
    top = LinearAxis(ticker=SingleIntervalTicker(interval=xstep, num_minor_ticks=xminor))
    style_axis(top, labels=False)
    p.add_layout(top, "above")
    right = LinearAxis(ticker=SingleIntervalTicker(interval=ystep, num_minor_ticks=yminor))
    style_axis(right, labels=False)
    p.add_layout(right, "right")


def base_fig(xr, yr, ml, mr, mt, mb, title=None):
    p = figure(frame_width=FRAME_W, frame_height=FRAME_H, x_range=xr, y_range=yr,
               min_border_left=ml, min_border_right=mr, min_border_top=mt, min_border_bottom=mb,
               output_backend="svg", toolbar_location=None,
               background_fill_color="white", border_fill_color="white")
    if title is not None:
        p.title = Title(text=title, align="left", offset=0, standoff=0,
                        text_font=QFONT, text_font_size="17px", text_font_style="normal",
                        text_color="black")
    p.xgrid.visible = False
    p.ygrid.visible = False
    p.outline_line_color = "black"
    p.outline_line_width = 1.8
    return p


rows = []
for i in range(4):
    last = (i == 3)
    lo, hi = mag_ranges[i]
    eps = (hi - lo) * 1e-5
    t_lo, t_hi = time_ranges[i]
    P = periods[i]

    # ---- time panel
    pl = base_fig(Range1d(t_lo, t_hi), Range1d(hi + eps, lo - eps), 101, 17, TOPS[i], BOTTOMS[i],
                  title=titles[i])
    setup_axes(pl, x_tick_step[i], x_minor[i], "%d", y_tick_step[i], y_minor[i], y_fmt[i], True,
               xlabel="HJD-2450000" if last else None, ylabel="magnitude (mag)")
    t = [a for a, b in lightcurves[i]]
    m = [b for a, b in lightcurves[i]]
    pl.scatter(t, m, marker="x", size=MSIZE, line_color=BLUE, line_width=MLW)
    tt = np.linspace(t_lo, t_hi, 6000)
    mm = fit_mean[i] - fit_amp[i] * np.cos(2 * np.pi * ((tt - fit_t0[i]) / P - fit_phase_max[i]))
    pl.line(tt, mm, line_color="black", line_width=3)
    pl.add_layout(Label(x=5, y=8, x_units="screen", y_units="screen",
                        text="data points: %d" % n_points[i],
                        text_font=FONT, text_font_size="17px", text_color="black",
                        text_baseline="alphabetic"))

    # ---- phase panel
    pr = base_fig(Range1d(-1e-4, 2 + 1e-4), Range1d(hi + eps, lo - eps), 17, 36, TOPS[i], BOTTOMS[i])
    setup_axes(pr, 0.5, 5, "%.1f", y_tick_step[i], y_minor[i], y_fmt[i], False,
               xlabel="phase" if last else None)
    ph = [a for a, b in phased[i]]
    pm = [b for a, b in phased[i]]
    pr.scatter(ph + [v + 1 for v in ph], pm + pm, marker="x", size=MSIZE, line_color=BLUE, line_width=MLW)
    pp = np.linspace(0, 2, 800)
    pmod = fit_mean[i] - fit_amp[i] * np.cos(2 * np.pi * (pp - fit_phase_max[i]))
    pr.line(pp, pmod, line_color="black", line_width=3)
    fs = 17
    w1 = 5.614 * fs - 5.4
    pr.add_layout(Label(x=5, y=8, x_units="screen", y_units="screen",
                        text="power #%d;" % power_rank[i], text_font=FONT, text_font_size="17px",
                        text_color="black", text_baseline="alphabetic"))
    pr.add_layout(Label(x=5 + w1 + 5.4, y=8, x_units="screen", y_units="screen",
                        text="P", text_font=FONT, text_font_size="17px", text_font_style="italic",
                        text_color="black", text_baseline="alphabetic"))
    pr.add_layout(Label(x=5 + w1 + 5.4 + 0.716 * fs + 5.4, y=8, x_units="screen", y_units="screen",
                        text="= %.1f d" % P, text_font=FONT, text_font_size="17px",
                        text_color="black", text_baseline="alphabetic"))
    rows.append(row(pl, pr))

layout = column(*rows)
open("out.html", "w").write(file_html(layout, INLINE, "periodograms"))
